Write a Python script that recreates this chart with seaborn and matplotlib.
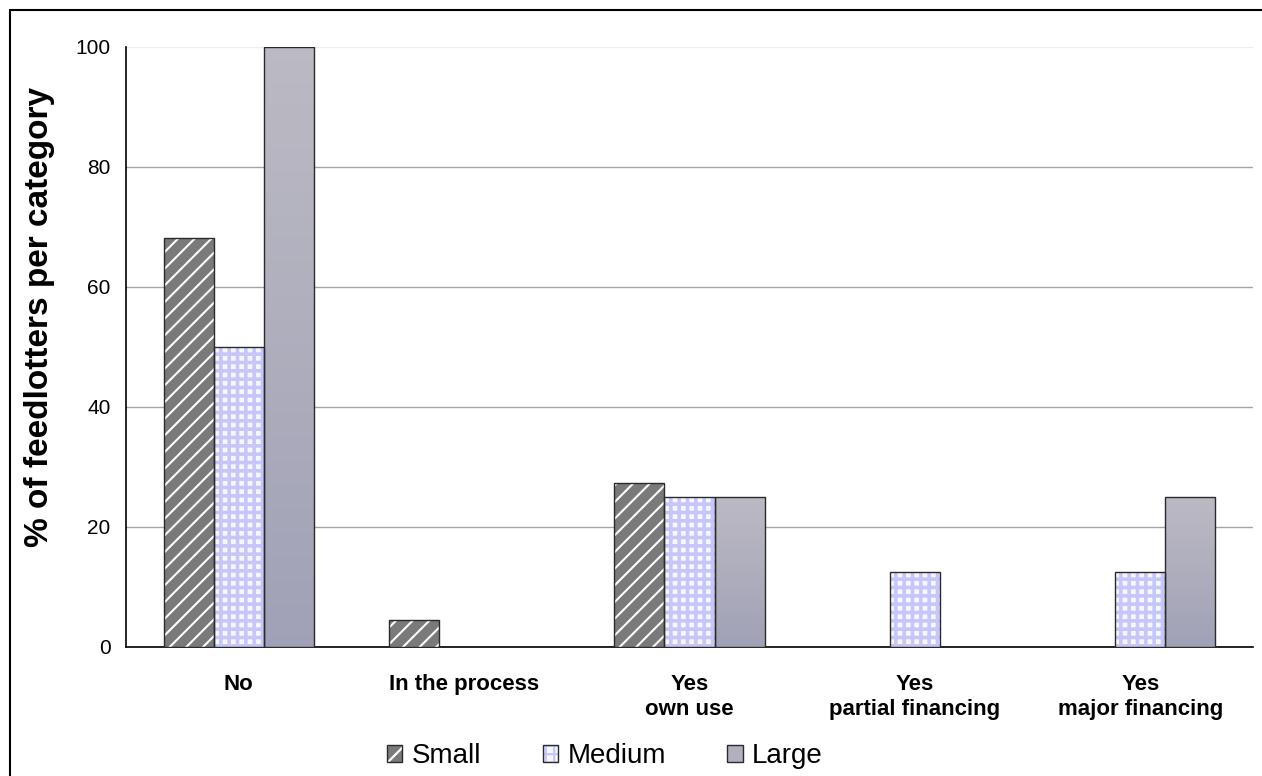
import numpy as np
import pandas as pd
import matplotlib
matplotlib.use("Agg")
import matplotlib.pyplot as plt
from matplotlib.patches import Rectangle, Patch
from matplotlib.legend_handler import HandlerTuple
import seaborn as sns

categories = ["No", "In the process", "Yes\nown use", "Yes\npartial financing", "Yes\nmajor financing"]
sizes = ["Small", "Medium", "Large"]
small = [68.2, 4.5, 27.3, 0, 0]
medium = [50, 0, 25, 12.5, 12.5]
large = [100, 0, 25, 0, 25]
y_ticks = [0, 20, 40, 60, 80, 100]

df = pd.DataFrame({
    "category": categories * 3,
    "size": [s for s in sizes for _ in categories],
    "percent": small + medium + large,
})

sns.set_style("white")
plt.rcParams["font.family"] = ["Liberation Sans", "DejaVu Sans"]
plt.rcParams["text.color"] = "black"
plt.rcParams["axes.labelcolor"] = "black"
plt.rcParams["xtick.color"] = "black"
plt.rcParams["ytick.color"] = "black"
plt.rcParams["hatch.linewidth"] = 1.6

# face colour, hatch colour, hatch pattern, hatch width for each size class
styles = {
    "Small": ("#7a7a7a", "#ffffff", "//", 1.5),
    "Medium": ("#f6f6ff", "#c6c6fa", "++", 2.6),
    "Large": ("#b0b0be", None, None, None),
}
palette = {k: v[0] for k, v in styles.items()}
outline = "#2a2a2a"

fig = plt.figure(figsize=(12.62, 7.76), dpi=100)
ax = fig.add_axes([126 / 1262, 1 - 646.7 / 776, (1253 - 126) / 1262, 600 / 776])

sns.barplot(data=df, x="category", y="percent", hue="size", order=categories,
            hue_order=sizes, palette=palette, width=2 / 3, gap=0, saturation=1,
            legend=False, ax=ax, zorder=3)

# vertical shading used on the "Large" bars
grad_top = np.array([0.735, 0.730, 0.765])
grad_bot = np.array([0.630, 0.633, 0.718])


def style_hatch(p, hcol, hatch, hw):
    p.set_hatch(hatch)
    p.set_edgecolor(hcol)
    p.set_linewidth(0)
    if hasattr(p, "set_hatch_linewidth"):
        p.set_hatch_linewidth(hw)
    else:
        p._hatch_linewidth = hw


for container, size in zip(ax.containers, sizes):
    face, hcol, hatch, hw = styles[size]
    for p in container.patches:
        h = p.get_height()
        if h <= 0:
            p.set_visible(False)
            continue
        if hatch:
            style_hatch(p, hcol, hatch, hw)
        else:
            p.set_linewidth(0)
            x0, w = p.get_x(), p.get_width()
            t = np.linspace(0, 1, 64)[:, None, None]
            img = grad_top * (1 - t) + grad_bot * t
            im = ax.imshow(img, extent=[x0, x0 + w, 0, h], aspect="auto",
                           zorder=3.5, interpolation="bilinear")
            im.set_clip_path(p)
        ax.add_patch(Rectangle((p.get_x(), p.get_y()), p.get_width(), h,
                               fill=False, edgecolor=outline, linewidth=1.0, zorder=4))

ax.set_xlim(-0.5, len(categories) - 0.5)
ax.set_ylim(0, 100)
ax.set_yticks(y_ticks)
ax.set_yticklabels([str(v) for v in y_ticks], fontsize=15)

# gridlines
ax.yaxis.grid(True, color="#a6a6a6", linewidth=1.0, zorder=0)
ax.set_axisbelow(True)
ax.get_ygridlines()[-1].set_color("#ececec")

# category boundaries as major ticks, names as minor-tick labels
ax.set_xticks(np.arange(-0.5, len(categories), 1))
ax.set_xticklabels([])
ax.set_xticks(np.arange(len(categories)), minor=True)
ax.set_xticklabels(categories, minor=True, fontsize=16, fontweight="bold")
ax.tick_params(axis="x", which="major", length=6, width=1, color="#444444", direction="out")
ax.tick_params(axis="x", which="minor", length=0, pad=20)
ax.tick_params(axis="y", length=5, width=1, color="black", direction="out", pad=6)
ax.set_xlabel("")

ax.set_ylabel("% of feedlotters per category", fontsize=24, fontweight="bold")
ax.yaxis.set_label_coords(-0.063, 0.55)

for side in ["top", "right"]:
    ax.spines[side].set_visible(False)
for side in ["left", "bottom"]:
    ax.spines[side].set_color("black")
    ax.spines[side].set_linewidth(1.2)

# legend: filled/hatched swatch with a thin outline on top
handles = []
for size in sizes:
    face, hcol, hatch, hw = styles[size]
    fill = Patch(facecolor=face, edgecolor=outline, linewidth=0)
    if hatch:
        style_hatch(fill, hcol, hatch, hw)
    edge = Patch(facecolor="none", edgecolor=outline, linewidth=1.0)
    handles.append((fill, edge))
fig.legend(handles=handles, labels=sizes, handler_map={tuple: HandlerTuple(ndivide=1, pad=0)},
           loc="center", bbox_to_anchor=(605 / 1262, 1 - 756 / 776),
           ncol=3, frameon=False, fontsize=20, handlelength=0.55, handleheight=0.55,
           handletextpad=0.35, columnspacing=2.2)

# outer frame
fig.patches.append(Rectangle((10 / 1262, -0.1), 1.2, 1.1 - 10 / 776,
                             transform=fig.transFigure, fill=False,
                             edgecolor="black", linewidth=1.5))

fig.savefig("out.png", dpi=100)
